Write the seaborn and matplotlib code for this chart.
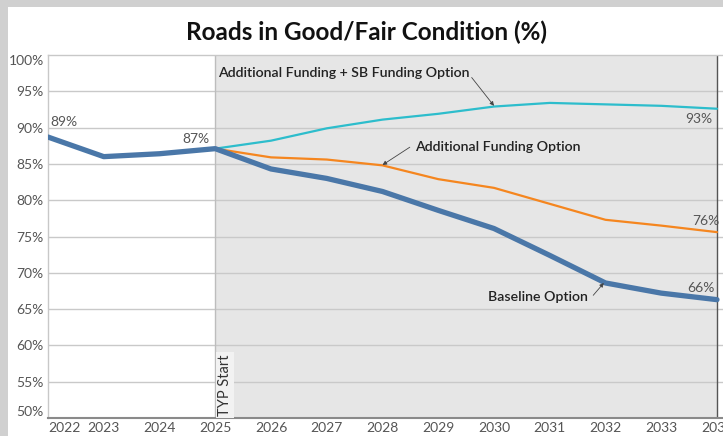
import matplotlib
matplotlib.use("Agg")
import matplotlib.pyplot as plt
import seaborn as sns
import pandas as pd
from matplotlib.patches import Rectangle

years = [2022, 2023, 2024, 2025, 2026, 2027, 2028, 2029, 2030, 2031, 2032, 2033, 2034]
baseline = [88.7, 86.0, 86.4, 87.1, 84.3, 83.0, 81.2, 78.6, 76.1, 72.4, 68.6, 67.2, 66.3]
add_years = [2025, 2026, 2027, 2028, 2029, 2030, 2031, 2032, 2033, 2034]
additional = [87.1, 85.9, 85.6, 84.8, 82.9, 81.7, 79.5, 77.3, 76.5, 75.6]
additional_sb = [87.1, 88.2, 89.9, 91.1, 91.9, 92.9, 93.4, 93.2, 93.0, 92.6]
yticks = [50, 55, 60, 65, 70, 75, 80, 85, 90, 95, 100]
ytick_labels = ["50%", "55%", "60%", "65%", "70%", "75%", "80%", "85%", "90%", "95%", "100%"]
xtick_labels = [str(y) for y in years]

df_base = pd.DataFrame({"Year": years, "Pct": baseline})
df_add = pd.DataFrame({"Year": add_years, "Pct": additional})
df_sb = pd.DataFrame({"Year": add_years, "Pct": additional_sb})

sns.set_theme(style="white")
plt.rcParams["font.family"] = ["Lato", "DejaVu Sans"]

fig = plt.figure(figsize=(7.23, 4.36), dpi=100)
fig.patch.set_facecolor("white")
# light frame strips
fig.patches.append(Rectangle((0, 1 - 7/436), 1, 7/436, transform=fig.transFigure,
                             facecolor="#d0d0d0", edgecolor="none", zorder=0))
fig.patches.append(Rectangle((0, 0), 8/723, 1, transform=fig.transFigure,
                             facecolor="#d0d0d0", edgecolor="none", zorder=0))

ax = fig.add_axes([48/723, 1 - 418/436, 1 - 48/723, 363/436])
ax.set_facecolor("white")
ax.set_xlim(2022, 2034.108)
ax.set_ylim(50, 100)

# shaded TYP region
ax.axvspan(2025, 2034, color="#e6e6e6", zorder=0, lw=0)
for yv in yticks[1:-1]:
    ax.axhline(yv, color="#c9c9c9", lw=1.0, zorder=1)
ax.axvline(2025, color="#bdbdbd", lw=1.0, zorder=1)
ax.axvline(2034, color="#555555", lw=1.0, zorder=1)

sns.lineplot(data=df_base, x="Year", y="Pct", ax=ax, color="#4a77a8", lw=3.8, zorder=4)
sns.lineplot(data=df_add, x="Year", y="Pct", ax=ax, color="#f5861f", lw=1.6, zorder=3)
sns.lineplot(data=df_sb, x="Year", y="Pct", ax=ax, color="#2dbdcc", lw=1.6, zorder=3)

ax.set_xlabel("")
ax.set_ylabel("")
ax.set_xticks(years)
ax.set_xticklabels(xtick_labels)
ax.set_yticks(yticks)
ax.set_yticklabels(ytick_labels)
ax.tick_params(axis="both", length=0, labelsize=10, labelcolor="#555555")
ax.tick_params(axis="x", pad=3)
ax.tick_params(axis="y", pad=3)
xl = ax.get_xticklabels()
xl[0].set_ha("left")
yl = ax.get_yticklabels()
yl[0].set_va("bottom")
yl[-1].set_va("top")

for s in ["left", "top"]:
    ax.spines[s].set_color("#c8c8c8")
    ax.spines[s].set_linewidth(1.0)
ax.spines["right"].set_visible(False)
ax.spines["bottom"].set_color("#8a8a8a")
ax.spines["bottom"].set_linewidth(1.5)

lab_kw = dict(fontsize=10, color="#555555", zorder=6)
ax.text(2022.04, 90.8, "89%", ha="left", va="center", **lab_kw)
ax.text(2024.9, 88.4, "87%", ha="right", va="center", **lab_kw)
ax.text(2033.91, 91.2, "93%", ha="right", va="center", **lab_kw)
ax.text(2034.04, 77.1, "76%", ha="right", va="center", **lab_kw)
ax.text(2033.96, 67.9, "66%", ha="right", va="center", **lab_kw)

txt_kw = dict(fontsize=10.2, color="#222222", fontweight="semibold", va="center", ha="left", zorder=7)
arrow_kw = dict(arrowstyle="-|>", color="#444444", lw=0.6, mutation_scale=6, shrinkA=0, shrinkB=0)

ax.text(2025.05, 97.5, "Additional Funding + SB Funding Option", **txt_kw)
ax.annotate("", xy=(2030.0, 93.0), xytext=(2029.6, 96.9), arrowprops=arrow_kw, zorder=7)
ax.text(2028.58, 87.35, "Additional Funding Option", **txt_kw)
ax.annotate("", xy=(2028.0, 84.85), xytext=(2028.49, 87.3), arrowprops=arrow_kw, zorder=7)
ax.text(2029.9, 66.7, "Baseline Option", **txt_kw)
ax.annotate("", xy=(2031.97, 68.6), xytext=(2031.78, 66.9), arrowprops=arrow_kw, zorder=7)

ax.text(2025.18, 50.3, "TYP Start", rotation=90, ha="center", va="bottom", fontsize=10.5,
        color="#333333", zorder=6,
        bbox=dict(boxstyle="square,pad=0.15", facecolor="#f2f2f2", edgecolor="none"))

fig.text(366/723, 1 - 32/436, "Roads in Good/Fair Condition (%)", ha="center", va="center",
         fontsize=17.5, fontweight="bold", color="#111111")

fig.savefig("out.png", dpi=100)
